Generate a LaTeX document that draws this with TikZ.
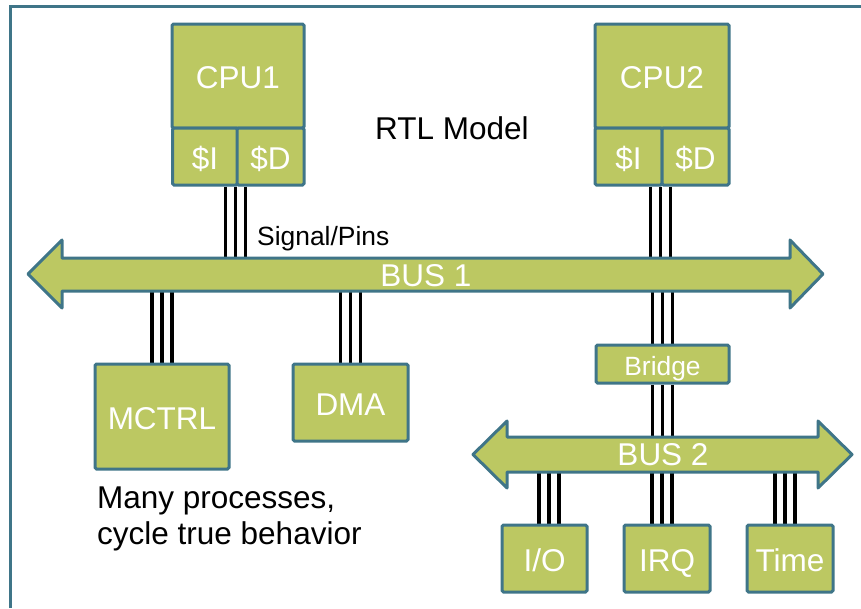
\documentclass[tikz,border=0pt]{standalone}
\usepackage{fontspec}
\setmainfont{Liberation Sans}
\definecolor{edge}{HTML}{3F7588}
\definecolor{leaf}{HTML}{BCC862}
\pgfdeclarelayer{paper}
\pgfdeclarelayer{back}
\pgfsetlayers{paper,back,main}
\tikzset{
  blk/.style={draw=edge, fill=leaf, line width=3pt, rounded corners=1.5pt,
    inner sep=0pt, text=white, text height=25pt, text depth=0pt,
    font=\fontsize{31.5}{36}\selectfont},
  bus/.style={draw=edge, fill=leaf, line width=3pt, line join=round},
  buslbl/.style={inner sep=0pt, text=white, font=\fontsize{31.5}{36}\selectfont},
  wire/.style={draw=black, line width=3.6pt},
  lbl/.style={inner sep=0pt, text=black, font=\fontsize{31.5}{36}\selectfont},
  small/.style={font=\fontsize{26.4}{30}\selectfont}
}
% three parallel signal wires dropping from an anchor to the level of a target
\newcommand\wires[3]{%
  \foreach \dx in {-10,0,10}{%
    \draw[wire] ([xshift={(#3+\dx)*1pt}]#1) -- ([xshift={(#3+\dx)*1pt}]#1 |- #2);}}
\begin{document}
\begin{tikzpicture}[x=1pt, y=-1pt]
\useasboundingbox (0,0) rectangle (861,608);
\begin{pgfonlayer}{paper}
\fill[white] (0,0) rectangle (861,608);
\end{pgfonlayer}

% outer frame
\draw[edge, line width=3pt] (10.5,608) -- (10.5,6.5) -- (861,6.5);

% bus 1
\draw[bus] (28,274) -- (62,240) -- (62,258) -- (790,258) -- (790,240) -- (823,274)
  -- (790,308) -- (790,291) -- (62,291) -- (62,308) -- cycle;
\coordinate (b1top) at (430,258);
\coordinate (b1bot) at (430,291);
\node[buslbl] (bus1) at (426,276) {BUS 1};

% bus 2
\draw[bus] (473,454.5) -- (507,421) -- (507,437) -- (818,437) -- (818,421) -- (852,454.5)
  -- (818,488) -- (818,472) -- (507,472) -- (507,488) -- cycle;
\coordinate (b2top) at (660,437);
\coordinate (b2bot) at (660,472);
\node[buslbl] (bus2) at (663,455) {BUS 2};

% processors with instruction and data caches
\node[blk, minimum width=132, minimum height=104] (cpu1) at (238,76) {CPU1};
\node[blk, minimum width=65, minimum height=57] (cpu1i) at (205,156.5) {\$I};
\node[blk, minimum width=67, minimum height=57] (cpu1d) at (270.5,156.5) {\$D};

\node[blk, minimum width=134, minimum height=104] (cpu2) at (662,76) {CPU2};
\node[blk, minimum width=67, minimum height=57] (cpu2i) at (628.5,156.5) {\$I};
\node[blk, minimum width=67, minimum height=57] (cpu2d) at (695.5,156.5) {\$D};

% peripherals on bus 1
\node[blk, minimum width=134, minimum height=105] (mctrl) at (162,416.5) {MCTRL};
\node[blk, minimum width=115, minimum height=77] (dma) at (350.5,402.5) {DMA};
\node[blk, small, text height=22pt, minimum width=133, minimum height=38] (bridge) at (662.5,364) {Bridge};

% peripherals on bus 2
\node[blk, minimum width=85, minimum height=67] (io) at (544.5,558.5) {I/O};
\node[blk, minimum width=86, minimum height=67] (irq) at (667,558.5) {IRQ};
\node[blk, minimum width=86, minimum height=67] (time) at (790,558.5) {Time};

% labels
\node[lbl, anchor=base west] (rtl) at (375,139) {RTL Model};
\node[lbl, small, anchor=base west] (sig) at (257,245) {Signal/Pins};
\node[lbl, anchor=north west, align=left] (note) at (97,486.5)
  {Many processes,\\cycle true behavior};

% signal wires
\begin{pgfonlayer}{back}
\wires{cpu1d.south west}{b1top}{0}
\wires{cpu2d.south west}{b1top}{0}
\wires{mctrl.north}{b1bot}{0}
\wires{dma.north}{b1bot}{0}
\wires{bridge.north}{b1bot}{0}
\wires{bridge.south}{b2top}{0}
\wires{io.north}{b2bot}{4.5}
\wires{irq.north}{b2bot}{-5}
\wires{time.north}{b2bot}{-5}
\end{pgfonlayer}
\end{tikzpicture}
\end{document}
